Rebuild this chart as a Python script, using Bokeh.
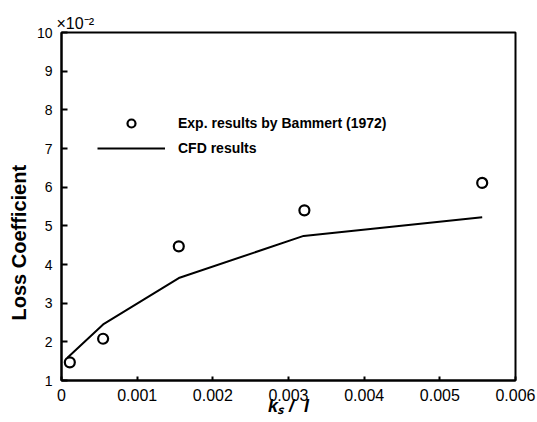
from bokeh.plotting import figure
from bokeh.models import Range1d, FixedTicker, Legend, LegendItem, Title
from bokeh.embed import file_html
from bokeh.resources import INLINE

# ---- data (loss coefficient shown in units of 1e-2) ----
exp_ks = [0.00011, 0.00055, 0.00155, 0.00321, 0.00556]
exp_loss = [1.47, 2.08, 4.47, 5.40, 6.11]
cfd_ks = [0.000075, 0.00055, 0.00155, 0.0032, 0.00556]
cfd_loss = [1.58, 2.45, 3.65, 4.74, 5.22]
x_ticks = [0, 0.001, 0.002, 0.003, 0.004, 0.005, 0.006]
x_tick_labels = ["0", "0.001", "0.002", "0.003", "0.004", "0.005", "0.006"]
y_ticks = [1, 2, 3, 4, 5, 6, 7, 8, 9, 10]
y_tick_labels = [str(v) for v in y_ticks]

FONT = "Liberation Sans"

p = figure(width=537, height=422, output_backend="svg", toolbar_location=None,
           x_range=Range1d(0, 0.006), y_range=Range1d(1, 10),
           min_border_left=61, min_border_right=22, min_border_top=32,
           min_border_bottom=42)
p.background_fill_color = "white"
p.border_fill_color = "white"
p.outline_line_color = "black"
p.outline_line_width = 2
p.xgrid.visible = False
p.ygrid.visible = False

# exponent marker as a left-aligned title
p.title.text = "×10⁻²"
p.title.align = "left"
p.title.offset = -5
p.title.standoff = 2
p.title.text_font = FONT
p.title.text_font_style = "normal"
p.title.text_font_size = "16px"
p.title.text_color = "black"

for ax in (p.xaxis, p.yaxis):
    ax.axis_line_width = 2
    ax.axis_line_color = "black"
    ax.major_tick_line_color = "black"
    ax.major_tick_line_width = 2
    ax.major_tick_out = 0
    ax.minor_tick_line_color = None
    ax.major_label_text_font = FONT
    ax.major_label_text_color = "black"
    ax.axis_label_text_font = FONT
    ax.axis_label_text_color = "black"

p.xaxis.ticker = FixedTicker(ticks=x_ticks)
p.xaxis.major_label_overrides = {t: l for t, l in zip(x_ticks, x_tick_labels)}
p.xaxis.major_tick_in = 4
p.xaxis.major_label_text_font_size = "16px"
p.xaxis.major_label_standoff = 8
p.xaxis.axis_label = "kₛ / \u00a0l"
p.xaxis.axis_label_text_font_style = "bold italic"
p.xaxis.axis_label_text_font_size = "18px"
p.xaxis.axis_label_standoff = -8

p.yaxis.ticker = FixedTicker(ticks=y_ticks)
p.yaxis.major_label_overrides = {t: l for t, l in zip(y_ticks, y_tick_labels)}
p.yaxis.major_tick_in = 6
p.yaxis.major_label_text_font_size = "14px"
p.yaxis.major_label_standoff = 9

# y axis title as a side title so it can sit lower than the frame centre
ytitle = Title(text="Loss Coefficient", align="left", offset=60, standoff=8,
               text_font=FONT, text_font_style="bold", text_font_size="20px",
               text_color="black")
p.add_layout(ytitle, "left")

cfd = p.line(cfd_ks, cfd_loss, line_color="black", line_width=2)
exp = p.scatter(exp_ks, exp_loss, marker="circle", size=10, line_color="black",
                line_width=2.2, fill_color="white")

legend = Legend(items=[
    LegendItem(label="Exp. results by Bammert (1972)", renderers=[exp]),
    LegendItem(label="CFD results", renderers=[cfd]),
], location=(36, 222), padding=0, margin=0, spacing=5,
    glyph_width=68, glyph_height=20, label_height=20, label_standoff=13,
    label_text_font=FONT, label_text_font_style="bold",
    label_text_font_size="14px", label_text_color="black",
    border_line_color=None, background_fill_alpha=0)
p.add_layout(legend, "center")

open("out.html", "w").write(file_html(p, INLINE))
